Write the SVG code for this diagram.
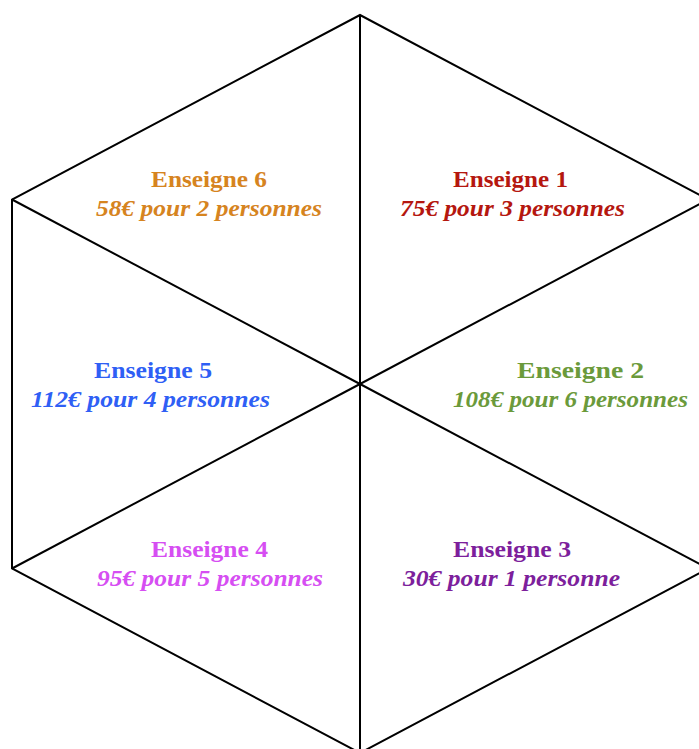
<svg xmlns="http://www.w3.org/2000/svg" width="699" height="749" viewBox="0 0 699 749">
  <style>
    .edge { stroke: #000; stroke-width: 2; fill: none; stroke-linejoin: miter; }
    .name { font-family: "Liberation Serif", "Times New Roman", Times, serif; font-size: 24px; font-weight: 700; }
    .deal { font-family: "Liberation Serif", "Times New Roman", Times, serif; font-size: 24px; font-weight: 700; font-style: italic; }
  </style>
  <rect width="699" height="749" fill="#fff"/>
  <g id="connectors">
    <polygon class="edge" points="360,15 708,199.5 708,568.5 360,753 12,568.5 12,199.5"/>
    <line class="edge" x1="360" y1="384" x2="360" y2="15"/>
    <line class="edge" x1="360" y1="384" x2="708" y2="199.5"/>
    <line class="edge" x1="360" y1="384" x2="708" y2="568.5"/>
    <line class="edge" x1="360" y1="384" x2="360" y2="753"/>
    <line class="edge" x1="360" y1="384" x2="12" y2="568.5"/>
    <line class="edge" x1="360" y1="384" x2="12" y2="199.5"/>
  </g>
  <g id="enseigne-1" fill="#b5170f">
    <text class="name" x="453" y="187" textLength="115" lengthAdjust="spacingAndGlyphs">Enseigne 1</text>
    <text class="deal" x="400" y="216" textLength="225" lengthAdjust="spacingAndGlyphs">75€ pour 3 personnes</text>
  </g>
  <g id="enseigne-2" fill="#6b9a3b">
    <text class="name" x="517" y="378" textLength="127" lengthAdjust="spacingAndGlyphs">Enseigne 2</text>
    <text class="deal" x="453" y="407" textLength="235" lengthAdjust="spacingAndGlyphs">108€ pour 6 personnes</text>
  </g>
  <g id="enseigne-3" fill="#7d1f9c">
    <text class="name" x="453" y="557" textLength="118" lengthAdjust="spacingAndGlyphs">Enseigne 3</text>
    <text class="deal" x="403" y="586" textLength="217" lengthAdjust="spacingAndGlyphs">30€ pour 1 personne</text>
  </g>
  <g id="enseigne-4" fill="#d64ef2">
    <text class="name" x="151" y="557" textLength="117" lengthAdjust="spacingAndGlyphs">Enseigne 4</text>
    <text class="deal" x="97" y="586" textLength="226" lengthAdjust="spacingAndGlyphs">95€ pour 5 personnes</text>
  </g>
  <g id="enseigne-5" fill="#2f5ff5">
    <text class="name" x="94" y="378" textLength="118" lengthAdjust="spacingAndGlyphs">Enseigne 5</text>
    <text class="deal" x="31" y="407" textLength="239" lengthAdjust="spacingAndGlyphs">112€ pour 4 personnes</text>
  </g>
  <g id="enseigne-6" fill="#d6841f">
    <text class="name" x="151" y="187" textLength="116" lengthAdjust="spacingAndGlyphs">Enseigne 6</text>
    <text class="deal" x="96" y="216" textLength="226" lengthAdjust="spacingAndGlyphs">58€ pour 2 personnes</text>
  </g>
</svg>
